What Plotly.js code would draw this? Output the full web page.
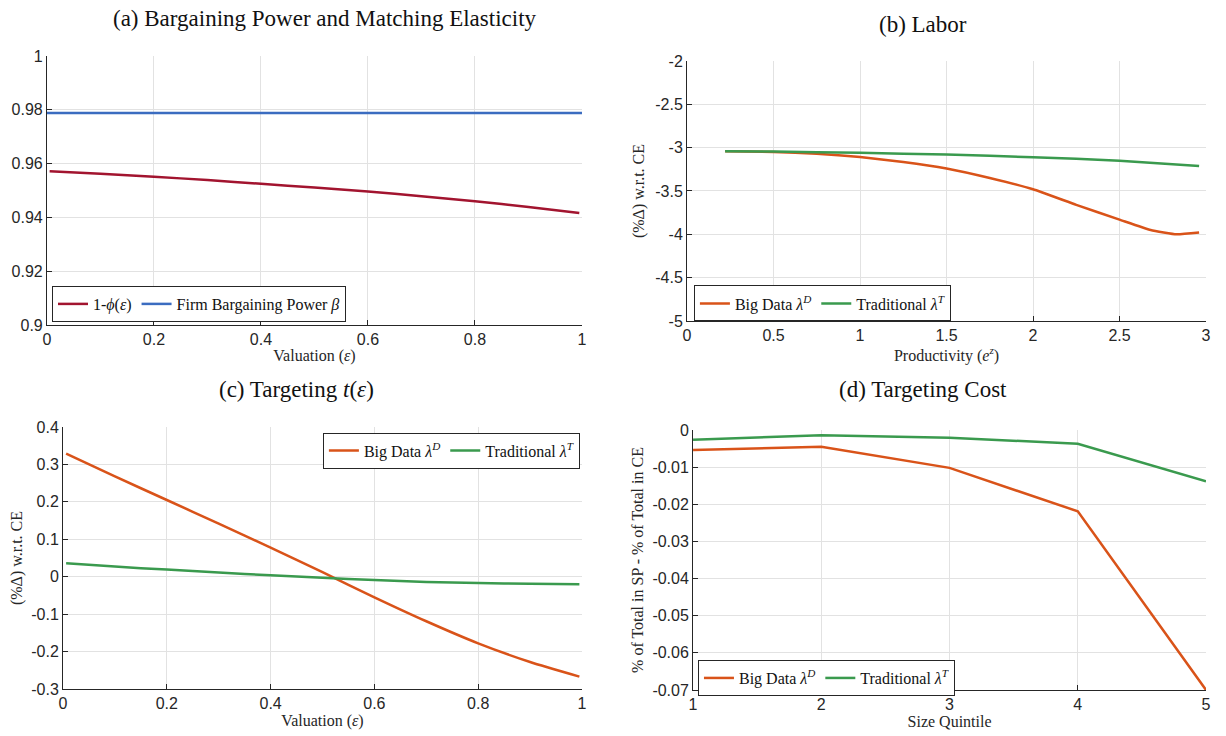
<!DOCTYPE html>
<html><head><meta charset="utf-8">
<script src="https://cdn.plot.ly/plotly-3.0.1.min.js"></script>
<style>html,body{margin:0;padding:0;background:#fff}#chart{width:1226px;height:736px}</style>
</head><body><div id="chart"></div>
<script>
// ---- Panel (a): Bargaining power and matching elasticity ----
const aX = [0.005, 0.1, 0.2, 0.3, 0.4, 0.5, 0.6, 0.7, 0.8, 0.9, 0.995];
const aPhi = [0.9572, 0.9562, 0.9551, 0.9539, 0.9525, 0.9511, 0.9496, 0.9479, 0.9460, 0.9439, 0.9416];
const aBetaX = [0, 1];
const aBeta = [0.9788, 0.9788];

// ---- Panel (b): Labor ----
const bBigX = [0.22, 0.5, 0.75, 1.0, 1.25, 1.5, 1.75, 2.0, 2.25, 2.5, 2.68, 2.83, 2.96];
const bBig = [-3.042, -3.05, -3.07, -3.108, -3.165, -3.24, -3.35, -3.48, -3.66, -3.83, -3.95, -4.0, -3.98];
const bTradX = [0.22, 0.5, 1.0, 1.5, 2.0, 2.5, 2.96];
const bTrad = [-3.042, -3.045, -3.06, -3.08, -3.11, -3.15, -3.212];

// ---- Panel (c): Targeting t(eps) ----
const cX = [0.006, 0.1, 0.2, 0.3, 0.4, 0.5, 0.6, 0.7, 0.8, 0.9, 0.995];
const cBig = [0.329, 0.268, 0.205, 0.142, 0.078, 0.012, -0.055, -0.119, -0.178, -0.228, -0.267];
const cTrad = [0.036, 0.027, 0.019, 0.011, 0.004, -0.003, -0.009, -0.014, -0.017, -0.019, -0.020];

// ---- Panel (d): Targeting cost ----
const dX = [1, 2, 3, 4, 5];
const dBig = [-0.0054, -0.0045, -0.0102, -0.0219, -0.0700];
const dTrad = [-0.0026, -0.0014, -0.0021, -0.0037, -0.0138];

// ---- Tick values / labels ----
const tickUnitX = [0, 0.2, 0.4, 0.6, 0.8, 1];
const tickUnitXText = ["0", "0.2", "0.4", "0.6", "0.8", "1"];
const tickAY = [0.9, 0.92, 0.94, 0.96, 0.98, 1];
const tickAYText = ["0.9", "0.92", "0.94", "0.96", "0.98", "1"];
const tickBX = [0, 0.5, 1, 1.5, 2, 2.5, 3];
const tickBXText = ["0", "0.5", "1", "1.5", "2", "2.5", "3"];
const tickBY = [-5, -4.5, -4, -3.5, -3, -2.5, -2];
const tickBYText = ["-5", "-4.5", "-4", "-3.5", "-3", "-2.5", "-2"];
const tickCY = [-0.3, -0.2, -0.1, 0, 0.1, 0.2, 0.3, 0.4];
const tickCYText = ["-0.3", "-0.2", "-0.1", "0", "0.1", "0.2", "0.3", "0.4"];
const tickDX = [1, 2, 3, 4, 5];
const tickDXText = ["1", "2", "3", "4", "5"];
const tickDY = [-0.07, -0.06, -0.05, -0.04, -0.03, -0.02, -0.01, 0];
const tickDYText = ["-0.07", "-0.06", "-0.05", "-0.04", "-0.03", "-0.02", "-0.01", "0"];

const RED = '#A2142F', BLUE = '#3B6CC0', ORANGE = '#D95319', GREEN = '#3A9A4E';
const LW = 2.5;

const traces = [
  {x: aX, y: aPhi, xaxis: 'x', yaxis: 'y', name: '1-<i>ϕ</i>(<i>ε</i>)', legend: 'legend',
   mode: 'lines', line: {color: RED, width: LW, shape: 'spline', smoothing: 0.6}},
  {x: aBetaX, y: aBeta, xaxis: 'x', yaxis: 'y', name: 'Firm Bargaining Power <i>β</i>', legend: 'legend',
   mode: 'lines', line: {color: BLUE, width: LW}},
  {x: bBigX, y: bBig, xaxis: 'x2', yaxis: 'y2', name: 'Big Data <i>λ</i><sup><i>D</i></sup>', legend: 'legend2',
   mode: 'lines', line: {color: ORANGE, width: LW, shape: 'spline', smoothing: 0.4}},
  {x: bTradX, y: bTrad, xaxis: 'x2', yaxis: 'y2', name: 'Traditional <i>λ</i><sup><i>T</i></sup>', legend: 'legend2',
   mode: 'lines', line: {color: GREEN, width: LW, shape: 'spline', smoothing: 0.4}},
  {x: cX, y: cBig, xaxis: 'x3', yaxis: 'y3', name: 'Big Data <i>λ</i><sup><i>D</i></sup>', legend: 'legend3',
   mode: 'lines', line: {color: ORANGE, width: LW, shape: 'spline', smoothing: 0.6}},
  {x: cX, y: cTrad, xaxis: 'x3', yaxis: 'y3', name: 'Traditional <i>λ</i><sup><i>T</i></sup>', legend: 'legend3',
   mode: 'lines', line: {color: GREEN, width: LW, shape: 'spline', smoothing: 0.6}},
  {x: dX, y: dBig, xaxis: 'x4', yaxis: 'y4', name: 'Big Data <i>λ</i><sup><i>D</i></sup>', legend: 'legend4',
   mode: 'lines', line: {color: ORANGE, width: LW}},
  {x: dX, y: dTrad, xaxis: 'x4', yaxis: 'y4', name: 'Traditional <i>λ</i><sup><i>T</i></sup>', legend: 'legend4',
   mode: 'lines', line: {color: GREEN, width: LW}}
];

const TICKFONT = {family: 'Liberation Sans, Arial, sans-serif', size: 16, color: '#262626'};
const SERIF = 'Liberation Serif, Times New Roman, serif';
const TITLEFONT = {family: SERIF, size: 16, color: '#262626'};

function ax(domain, range, tv, tt, anchor, title, standoff) {
  const o = {
    domain: domain, range: range, anchor: anchor,
    tickmode: 'array', tickvals: tv, ticktext: tt,
    ticks: 'inside', ticklen: 5, tickwidth: 1, tickcolor: '#262626',
    showline: true, linecolor: '#262626', linewidth: 1,
    showgrid: true, gridcolor: '#e2e2e2', gridwidth: 1,
    zeroline: false, tickfont: TICKFONT, fixedrange: true
  };
  if (title) o.title = {text: title, font: TITLEFONT, standoff: standoff};
  return o;
}

function leg(x, y, xa, ya) {
  return {x: x, y: y, xanchor: xa, yanchor: ya, xref: 'paper', yref: 'paper',
    orientation: 'h', bgcolor: '#ffffff', bordercolor: '#262626', borderwidth: 1,
    font: {family: SERIF, size: 16, color: '#111'}, itemwidth: 30, traceorder: 'normal',
    tracegroupgap: 0};
}

const layout = {
  width: 1226, height: 736,
  margin: {l: 0, r: 0, t: 0, b: 0},
  paper_bgcolor: '#fff', plot_bgcolor: '#fff',
  showlegend: true,
  xaxis:  ax([0.0383, 0.4747], [0, 1], tickUnitX, tickUnitXText, 'y', 'Valuation (<i>ε</i>)', 2),
  yaxis:  ax([0.5584, 0.9239], [0.9, 1], tickAY, tickAYText, 'x', null, 0),
  xaxis2: ax([0.5604, 0.9837], [0, 3], tickBX, tickBXText, 'y2', 'Productivity (<i>e</i><sup><i>z</i></sup>)', 2),
  yaxis2: ax([0.5639, 0.9171], [-5, -2], tickBY, tickBYText, 'x2', '(%Δ) w.r.t. CE', 6),
  xaxis3: ax([0.0514, 0.4747], [0, 1], tickUnitX, tickUnitXText, 'y3', 'Valuation (<i>ε</i>)', 2),
  yaxis3: ax([0.0639, 0.4198], [-0.3, 0.4], tickCY, tickCYText, 'x3', '(%Δ) w.r.t. CE', 4),
  xaxis4: ax([0.5653, 0.9837], [1, 5], tickDX, tickDXText, 'y4', 'Size Quintile', 2),
  yaxis4: ax([0.0625, 0.4158], [-0.07, 0], tickDY, tickDYText, 'x4', '% of Total in SP - % of Total in CE', 4),
  legend:  leg(0.0424, 0.5625, 'left', 'bottom'),
  legend2: leg(0.566, 0.5632, 'left', 'bottom'),
  legend3: leg(0.473, 0.4122, 'right', 'top'),
  legend4: leg(0.5693, 0.0543, 'left', 'bottom'),
  annotations: [
    {text: '(a) Bargaining Power and Matching Elasticity', x: 325/1226, y: 1 - 18/736},
    {text: '(b) Labor', x: 923/1226, y: 1 - 25/736},
    {text: '(c) Targeting <i>t</i>(<i>ε</i>)', x: 296/1226, y: 1 - 389/736},
    {text: '(d) Targeting Cost', x: 923/1226, y: 1 - 389/736}
  ].map(a => Object.assign(a, {xref: 'paper', yref: 'paper', xanchor: 'center', yanchor: 'middle',
      showarrow: false, font: {family: SERIF, size: 23, color: '#111'}}))
};

Plotly.newPlot('chart', traces, layout, {displayModeBar: false, staticPlot: true});
</script>
</body></html>
